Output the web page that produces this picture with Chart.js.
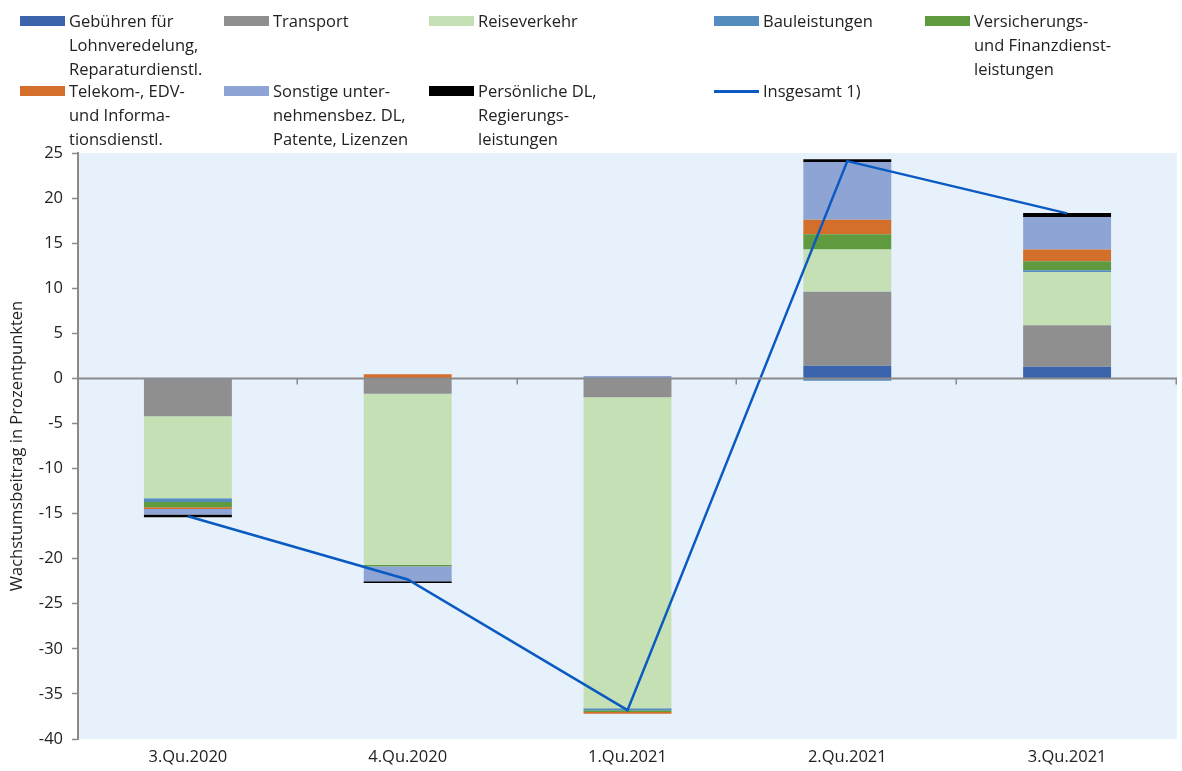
<!DOCTYPE html>
<html lang="de">
<head>
<meta charset="utf-8">
<title>Wachstumsbeiträge Dienstleistungen</title>
<script src="https://cdn.jsdelivr.net/npm/chart.js@4/dist/chart.umd.min.js"></script>
<style>
  html, body { margin: 0; padding: 0; background: #ffffff; }
  #wrap { position: relative; width: 1182px; height: 771px; overflow: hidden; }
  #chart { position: absolute; left: 0; top: 0; }
  #legend { position: absolute; left: 0; top: 0; width: 1182px; height: 150px;
            font-family: "Open Sans", sans-serif; font-size: 16.5px; line-height: 24px; color: #222222; }
  .item { position: absolute; }
  .sw { position: absolute; left: 0; top: 7px; width: 45px; height: 10px; }
  .sw.line { top: 11px; height: 3px; }
  .txt { position: absolute; left: 49px; top: 0; white-space: nowrap; }
</style>
</head>
<body>
<div id="wrap">
  <canvas id="chart" width="1182" height="771"></canvas>
  <div id="legend"></div>
</div>
<script>
// Quarters on the x axis
const quarters = ['3.Qu.2020', '4.Qu.2020', '1.Qu.2021', '2.Qu.2021', '3.Qu.2021'];

// Contributions to growth in percentage points, by service category
const gebuehren     = [-0.1,  0.0,  -0.1,  1.4,  1.3];
const transport     = [-4.1, -1.7,  -2.0,  8.2,  4.6];
const reiseverkehr  = [-9.1, -19.0, -34.5, 4.7,  5.9];
const bauleistungen = [-0.4,  0.0,  -0.2, -0.25, 0.2];
const versicherung  = [-0.6, -0.15, -0.2,  1.7,  1.0];
const telekom       = [-0.2,  0.45, -0.2,  1.6,  1.3];
const sonstige      = [-0.6, -1.65,  0.27, 6.4,  3.6];
const persoenliche  = [-0.3, -0.2,   0.0,  0.3,  0.45];
const insgesamt     = [-15.3, -22.3, -36.8, 24.1, 18.3];

// Y axis range and step
const yMin = -40, yMax = 25, yStep = 5;

const barSeries = [
  { label: 'Gebühren für\nLohnveredelung,\nReparaturdienstl.', data: gebuehren, color: '#3B64AD' },
  { label: 'Transport', data: transport, color: '#8F8F8F' },
  { label: 'Reiseverkehr', data: reiseverkehr, color: '#C5E0B4' },
  { label: 'Bauleistungen', data: bauleistungen, color: '#548CC0' },
  { label: 'Versicherungs-\nund Finanzdienst-\nleistungen', data: versicherung, color: '#5F9A3E' },
  { label: 'Telekom-, EDV-\nund Informa-\ntionsdienstl.', data: telekom, color: '#D36F2B' },
  { label: 'Sonstige unter-\nnehmensbez. DL,\nPatente, Lizenzen', data: sonstige, color: '#8EA4D4' },
  { label: 'Persönliche DL,\nRegierungs-\nleistungen', data: persoenliche, color: '#000000' }
];
const lineSeries = { label: 'Insgesamt 1)', data: insgesamt, color: '#0A5AC2' };

const FONT = '"Open Sans", sans-serif';
const TEXT = '#222222';
const AXIS = '#8A8A8A';
const PLOT_BG = '#E6F1FC';

const datasets = barSeries.map(s => ({
  type: 'bar',
  label: s.label,
  data: s.data,
  backgroundColor: s.color,
  borderWidth: 0,
  stack: 'dl',
  barPercentage: 0.4,
  categoryPercentage: 1.0,
  order: 2
}));
datasets.push({
  type: 'line',
  label: lineSeries.label,
  data: lineSeries.data,
  borderColor: lineSeries.color,
  backgroundColor: lineSeries.color,
  borderWidth: 2.5,
  pointRadius: 0,
  tension: 0,
  order: 1
});

// Plot area background plus zero line with category separators
const plotDecor = {
  id: 'plotDecor',
  beforeDraw(chart) {
    const { ctx, chartArea: a } = chart;
    ctx.save();
    ctx.fillStyle = PLOT_BG;
    ctx.fillRect(a.left, a.top, a.right - a.left, a.bottom - a.top);
    ctx.restore();
  },
  afterDatasetsDraw(chart) {
    const { ctx, chartArea: a, scales } = chart;
    const y0 = scales.y.getPixelForValue(0);
    ctx.save();
    ctx.strokeStyle = AXIS;
    ctx.lineWidth = 2;
    ctx.beginPath();
    ctx.moveTo(a.left, y0);
    ctx.lineTo(a.right, y0);
    ctx.stroke();
    ctx.lineWidth = 1.5;
    const n = quarters.length;
    const step = (a.right - a.left) / n;
    ctx.beginPath();
    for (let i = 1; i <= n; i++) {
      const x = Math.round(a.left + step * i) - 0.75;
      ctx.moveTo(x, y0);
      ctx.lineTo(x, y0 + 6);
    }
    ctx.stroke();
    ctx.restore();
  }
};

new Chart(document.getElementById('chart'), {
  data: { labels: quarters, datasets },
  options: {
    responsive: false,
    animation: false,
    layout: { padding: { top: 153, right: 5, left: 0, bottom: 0 } },
    plugins: { legend: { display: false }, tooltip: { enabled: false } },
    scales: {
      x: {
        stacked: true,
        grid: { display: false, drawTicks: false },
        border: { display: false },
        ticks: { color: TEXT, font: { family: FONT, size: 16.5 }, padding: 8, maxRotation: 0 },
        afterFit(scale) { scale.height = 32; }
      },
      y: {
        stacked: true,
        min: yMin, max: yMax,
        ticks: { stepSize: yStep, color: TEXT, font: { family: FONT, size: 16.5 }, padding: 9 },
        grid: { drawOnChartArea: false, drawTicks: true, tickLength: 6, tickColor: AXIS, tickWidth: 1.5 },
        border: { display: true, color: AXIS, width: 2 },
        title: {
          display: true,
          text: 'Wachstumsbeitrag in Prozentpunkten',
          color: TEXT,
          font: { family: FONT, size: 16.5 },
          padding: { top: 7, bottom: 0 }
        },
        afterFit(scale) { scale.width = 78; }
      }
    }
  },
  plugins: [plotDecor]
});

// Legend: two rows, laid out in columns
const legendCols = [20, 224, 429, 714, 925];
const legendRows = [14, 84];
const legendItems = barSeries.map(s => ({ text: s.label, color: s.color, line: false }))
  .concat([{ text: lineSeries.label, color: lineSeries.color, line: true }]);
const legendEl = document.getElementById('legend');
legendItems.forEach((it, i) => {
  const row = Math.floor(i / 5), col = i % 5;
  const d = document.createElement('div');
  d.className = 'item';
  d.style.left = legendCols[col] + 'px';
  d.style.top = (legendRows[row] - 5) + 'px';
  const sw = document.createElement('div');
  sw.className = 'sw' + (it.line ? ' line' : '');
  sw.style.background = it.color;
  const t = document.createElement('div');
  t.className = 'txt';
  t.innerHTML = it.text.split('\n').map(s => s.replace(/&/g, '&amp;')).join('<br>');
  d.appendChild(sw);
  d.appendChild(t);
  legendEl.appendChild(d);
});
</script>
</body>
</html>
